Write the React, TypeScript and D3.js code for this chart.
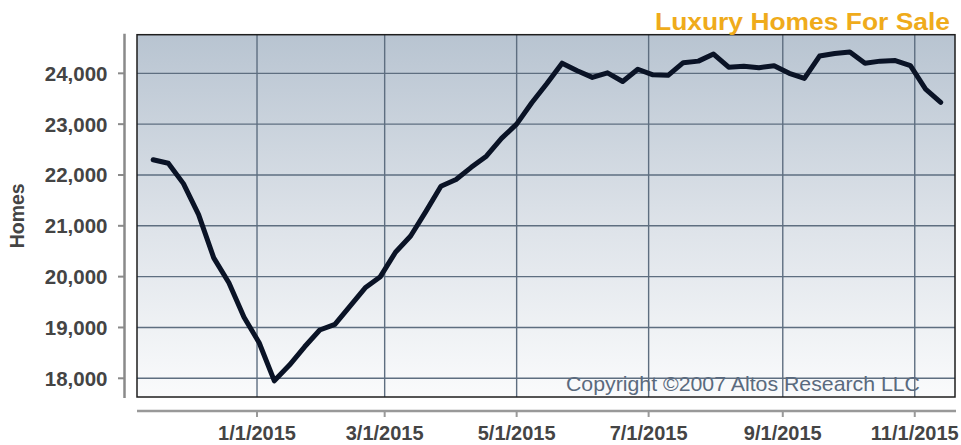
import React from "react";
import * as d3 from "d3";

const dates: string[] = [
  "2014-11-14","2014-11-21","2014-11-28","2014-12-05","2014-12-12","2014-12-19","2014-12-26",
  "2015-01-02","2015-01-09","2015-01-16","2015-01-23","2015-01-30","2015-02-06","2015-02-13",
  "2015-02-20","2015-02-27","2015-03-06","2015-03-13","2015-03-20","2015-03-27","2015-04-03",
  "2015-04-10","2015-04-17","2015-04-24","2015-05-01","2015-05-08","2015-05-15","2015-05-22",
  "2015-05-29","2015-06-05","2015-06-12","2015-06-19","2015-06-26","2015-07-03","2015-07-10",
  "2015-07-17","2015-07-24","2015-07-31","2015-08-07","2015-08-14","2015-08-21","2015-08-28",
  "2015-09-04","2015-09-11","2015-09-18","2015-09-25","2015-10-02","2015-10-09","2015-10-16",
  "2015-10-23","2015-10-30","2015-11-06","2015-11-13",
];

const homes: number[] = [
  22300, 22230, 21830, 21220, 20370, 19880, 19200, 18700, 17950, 18260,
  18620, 18950, 19060, 19420, 19780, 20000, 20480, 20800, 21280, 21780,
  21910, 22150, 22370, 22720, 23000, 23420, 23800, 24200, 24050, 23920,
  24010, 23840, 24080, 23970, 23960, 24210, 24240, 24380, 24120, 24140,
  24110, 24150, 24000, 23900, 24340, 24390, 24420, 24200, 24240, 24250,
  24150, 23690, 23430,
];

const xTickDates: string[] = ["2015-01-01", "2015-03-01", "2015-05-01", "2015-07-01", "2015-09-01", "2015-11-01"];
const yTickValues: number[] = [18000, 19000, 20000, 21000, 22000, 23000, 24000];

const title = "Luxury Homes For Sale";
const yTitle = "Homes";
const copyright = "Copyright \u00A92007 Altos Research LLC";

const parse = (s: string) => {
  const [y, m, d] = s.split("-").map(Number);
  return new Date(y, m - 1, d);
};

export default function App() {
  const W = 961, H = 445;
  const L = 137, R = 955, T = 34.7, B = 397;

  const x = d3
    .scaleTime()
    .domain([new Date(2014, 10, 6, 12, 45), new Date(2015, 10, 19, 14, 24)])
    .range([L, R]);
  const y = d3.scaleLinear().domain([17632, 24760]).range([B, T]);

  const data = dates.map((d, i) => ({ date: parse(d), v: homes[i] }));
  const line = d3
    .line<{ date: Date; v: number }>()
    .x((d) => x(d.date))
    .y((d) => y(d.v));

  const fmt = d3.format(",");
  const fmtDate = (d: Date) => `${d.getMonth() + 1}/${d.getDate()}/${d.getFullYear()}`;
  const font = "Liberation Sans, Arial, Helvetica, sans-serif";

  return (
    <svg
      width={W}
      height={H}
      style={{ position: "absolute", left: 0, top: 0, background: "#fff" }}
      fontFamily={font}
    >
      <defs>
        <linearGradient id="bg" x1="0" y1="0" x2="0" y2="1">
          <stop offset="0%" stopColor="#b8c4d1" />
          <stop offset="55%" stopColor="#dfe4ea" />
          <stop offset="100%" stopColor="#fafbfc" />
        </linearGradient>
        <clipPath id="clip">
          <rect x={L} y={T} width={R - L} height={B - T} />
        </clipPath>
      </defs>

      <rect x={L} y={T} width={R - L} height={B - T} fill="url(#bg)" />

      {/* grid */}
      {yTickValues.map((v) => (
        <line key={"gy" + v} x1={L} x2={R} y1={y(v)} y2={y(v)} stroke="#5e6e80" strokeWidth={1.4} />
      ))}
      {xTickDates.map((s) => (
        <line key={"gx" + s} x1={x(parse(s))} x2={x(parse(s))} y1={T} y2={B} stroke="#5e6e80" strokeWidth={1.4} />
      ))}

      {/* copyright */}
      <text
        x={566}
        y={391}
        fontSize={21}
        fill="#5a6a7e"
        textLength={354}
        lengthAdjust="spacingAndGlyphs"
      >
        {copyright}
      </text>

      {/* border */}
      <rect x={L} y={T} width={R - L} height={B - T} fill="none" stroke="#1e1e1e" strokeWidth={1.5} />

      {/* data line */}
      <path
        d={line(data) || ""}
        fill="none"
        stroke="#0a1326"
        strokeWidth={5}
        strokeLinejoin="round"
        strokeLinecap="round"
        clipPath="url(#clip)"
      />

      {/* y axis */}
      <line x1={124.5} x2={124.5} y1={T - 1} y2={B + 1} stroke="#8a8a8a" strokeWidth={2.5} />
      {yTickValues.map((v) => (
        <g key={"yt" + v}>
          <line x1={118} x2={124.5} y1={y(v)} y2={y(v)} stroke="#8a8a8a" strokeWidth={2} />
          <text x={107.5} y={y(v)} dy="0.36em" textAnchor="end" fontSize={20.5} fontWeight="bold" fill="#444">
            {fmt(v)}
          </text>
        </g>
      ))}

      {/* x axis */}
      <line x1={L} x2={R + 1} y1={411} y2={411} stroke="#999" strokeWidth={2.5} />
      {xTickDates.map((s) => (
        <g key={"xt" + s}>
          <line x1={x(parse(s))} x2={x(parse(s))} y1={411} y2={417} stroke="#999" strokeWidth={2} />
          <text x={x(parse(s))} y={440} textAnchor="middle" fontSize={20} fontWeight="bold" fill="#444">
            {fmtDate(parse(s))}
          </text>
        </g>
      ))}

      {/* y title */}
      <text
        transform={`translate(24,${(T + B) / 2}) rotate(-90)`}
        textAnchor="middle"
        fontSize={19.5}
        fontWeight="bold"
        fill="#444"
      >
        {yTitle}
      </text>

      {/* title */}
      <text
        x={950}
        y={29.5}
        textAnchor="end"
        fontSize={24}
        fontWeight="bold"
        fill="#efab1b"
        textLength={295}
        lengthAdjust="spacingAndGlyphs"
      >
        {title}
      </text>
    </svg>
  );
}
